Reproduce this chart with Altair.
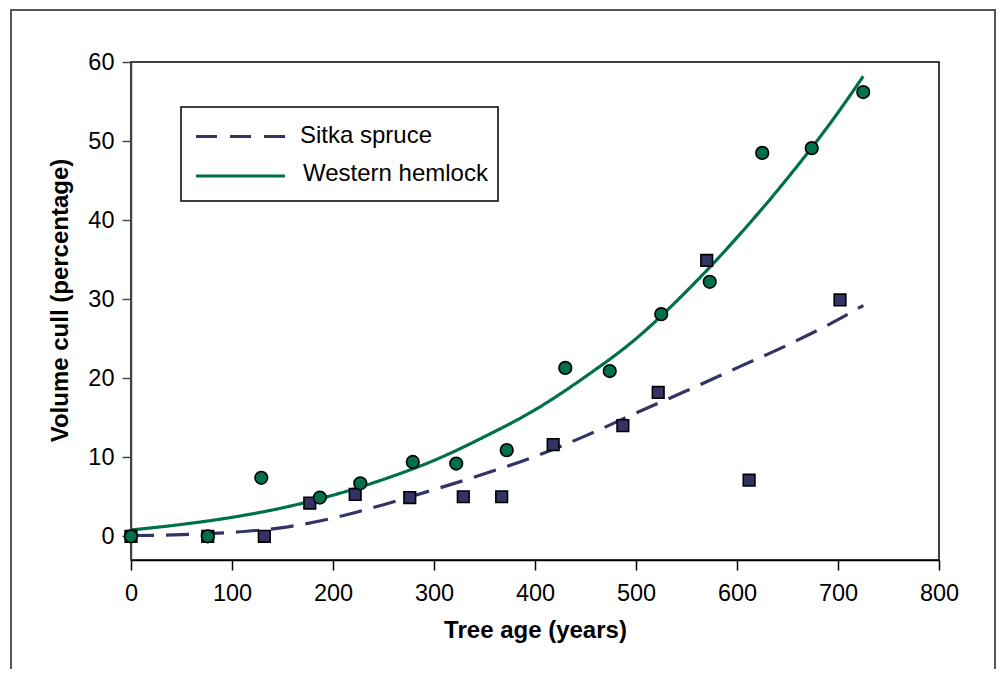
import altair as alt
import pandas as pd

# ---- data ----
species = ["Sitka spruce", "Western hemlock"]
colors = ["#333366", "#00704A"]

sitka_age = [0, 76, 132, 177, 222, 276, 329, 367, 418, 487, 522, 570, 612, 702]
sitka_cull = [0, 0, 0, 4.2, 5.3, 4.9, 5.0, 5.0, 11.6, 14.0, 18.2, 34.9, 7.1, 29.9]

hemlock_age = [0, 76, 129, 187, 227, 279, 322, 372, 430, 474, 525, 573, 625, 674, 725]
hemlock_cull = [0, 0, 7.4, 4.9, 6.7, 9.4, 9.2, 10.9, 21.3, 20.9, 28.1, 32.2, 48.5, 49.1, 56.2]

fit_age = [0, 50, 100, 150, 200, 250, 300, 350, 400, 450, 500, 550, 600, 650, 700, 725]
sitka_fit = [0.1, 0.2, 0.5, 1.1, 2.3, 4.0, 5.9, 7.9, 10.1, 12.7, 15.6, 18.4, 21.3, 24.2, 27.4, 29.2]
hemlock_fit = [0.8, 1.5, 2.4, 3.6, 5.2, 7.2, 9.6, 12.6, 16.0, 20.2, 25.0, 31.0, 37.8, 45.3, 53.6, 58.2]

x_ticks = [0, 100, 200, 300, 400, 500, 600, 700, 800]
y_ticks = [0, 10, 20, 30, 40, 50, 60]

FONT = "Liberation Sans"

pts = pd.concat([
    pd.DataFrame({"age": sitka_age, "cull": sitka_cull, "species": species[0]}),
    pd.DataFrame({"age": hemlock_age, "cull": hemlock_cull, "species": species[1]}),
], ignore_index=True)
fits = pd.concat([
    pd.DataFrame({"age": fit_age, "cull": sitka_fit, "species": species[0]}),
    pd.DataFrame({"age": fit_age, "cull": hemlock_fit, "species": species[1]}),
], ignore_index=True)

xscale = alt.Scale(domain=[0, 800], nice=False, zero=False)
yscale = alt.Scale(domain=[-3, 60], nice=False, zero=False)

xaxis = alt.Axis(values=x_ticks, title="Tree age (years)", grid=False,
                 tickSize=10, labelPadding=11, titlePadding=14,
                 labelFontSize=23.5, titleFontSize=24, titleFontWeight="bold",
                 labelFont=FONT, titleFont=FONT, labelColor="#000", titleColor="#000",
                 domainColor="#000", tickColor="#000", domainWidth=1.5, tickWidth=1.5,
                 labelFlush=False)
yaxis = alt.Axis(values=y_ticks, title="Volume cull (percentage)", grid=False,
                 tickSize=9, labelPadding=8, titlePadding=14,
                 titleY=238, titleX=-64, titleBaseline="alphabetic",
                 labelFontSize=23.5, titleFontSize=24, titleFontWeight="bold",
                 labelFont=FONT, titleFont=FONT, labelColor="#000", titleColor="#000",
                 domainColor="#444", tickColor="#444", domainWidth=1.5, tickWidth=1.5,
                 labelFlush=False)

X = alt.X("age:Q", scale=xscale, axis=xaxis)
Y = alt.Y("cull:Q", scale=yscale, axis=yaxis)

one = alt.Data(values=[{"k": 1}])

frame = alt.Chart(one).mark_rect(fill=None, stroke="#555", strokeWidth=2, clip=False).encode(
    x=alt.value(-120), x2=alt.value(864), y=alt.value(-52), y2=alt.value(720))

lines = alt.Chart(fits).mark_line(interpolate="monotone", strokeWidth=3.2).encode(
    x=X, y=Y,
    color=alt.Color("species:N", scale=alt.Scale(domain=species, range=colors), legend=None),
    strokeDash=alt.StrokeDash("species:N", scale=alt.Scale(domain=species, range=[[23, 12], [1, 0]]), legend=None),
    detail="species:N",
)

sq = alt.Chart(pts).transform_filter(alt.datum.species == species[0]).mark_point(
    shape="square", filled=True, fill=colors[0], stroke="#000", strokeWidth=1.6, size=135, opacity=1
).encode(x=X, y=Y)

ci = alt.Chart(pts).transform_filter(alt.datum.species == species[1]).mark_point(
    shape="circle", filled=True, fill=colors[1], stroke="#000", strokeWidth=1.6, size=160, opacity=1
).encode(x=X, y=Y)

# legend (drawn by hand)
leg_box = alt.Chart(one).mark_rect(fill="white", stroke="#000", strokeWidth=1.5).encode(
    x=alt.value(50), x2=alt.value(367), y=alt.value(45), y2=alt.value(139))
leg_l1 = alt.Chart(one).mark_rule(color=colors[0], strokeWidth=3, strokeDash=[21, 13]).encode(
    x=alt.value(65), x2=alt.value(154), y=alt.value(74.5))
leg_l2 = alt.Chart(one).mark_rule(color=colors[1], strokeWidth=3).encode(
    x=alt.value(65), x2=alt.value(154), y=alt.value(114))
leg_t1 = alt.Chart(one).mark_text(align="left", baseline="alphabetic", font=FONT, fontSize=24, color="#000").encode(
    x=alt.value(169), y=alt.value(81), text=alt.value(species[0]))
leg_t2 = alt.Chart(one).mark_text(align="left", baseline="alphabetic", font=FONT, fontSize=24, color="#000").encode(
    x=alt.value(172), y=alt.value(118.5), text=alt.value(species[1]))

chart = alt.layer(frame, lines, sq, ci, leg_box, leg_l1, leg_l2, leg_t1, leg_t2).properties(
    width=808, height=498,
    autosize=alt.AutoSizeParams(type="none"),
    padding={"left": 123, "top": 54, "right": 57, "bottom": 109},
    background="white",
).configure_view(stroke="#000", strokeWidth=1.5)

chart.save("out.html", embed_options={"renderer": "svg", "actions": False})
